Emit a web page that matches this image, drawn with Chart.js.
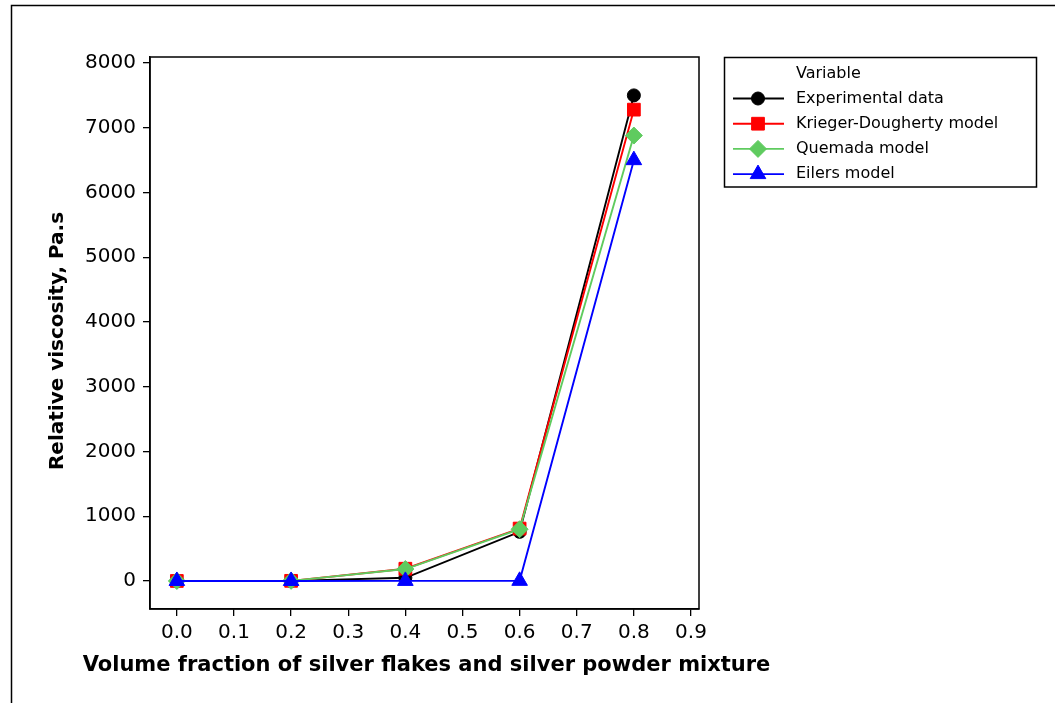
<!DOCTYPE html>
<html>
<head>
<meta charset="utf-8">
<title>Relative viscosity vs volume fraction</title>
<script src="https://cdn.jsdelivr.net/npm/chart.js@4.4.1/dist/chart.umd.min.js"></script>
<style>
  html, body { margin: 0; padding: 0; background: #fff; }
  #wrap { width: 1055px; height: 703px; position: relative; }
</style>
</head>
<body>
<div id="wrap"><canvas id="c" width="1055" height="703"></canvas></div>
<script>
// Volume fraction of filler (x) and relative viscosity for each series
const fractions        = [0.0, 0.2, 0.4, 0.6, 0.8];
const experimental     = [1, 2, 50, 760, 7500];
const kriegerDougherty = [1, 3, 190, 810, 7280];
const quemada          = [1, 3, 185, 800, 6880];
const eilers           = [1, 1, 2, 3, 6500];

const xTickValues = [0.0, 0.1, 0.2, 0.3, 0.4, 0.5, 0.6, 0.7, 0.8, 0.9];
const yTickValues = [0, 1000, 2000, 3000, 4000, 5000, 6000, 7000, 8000];

const seriesNames  = ['Experimental data', 'Krieger-Dougherty model', 'Quemada model', 'Eilers model'];
const seriesValues = [experimental, kriegerDougherty, quemada, eilers];
const seriesColors = ['#000000', '#ff0000', '#5fcb5f', '#0000ff'];
const seriesShapes = ['circle', 'rect', 'rectRot', 'triangle'];
const seriesRadius = [6.5, 9, 8.5, 9];

const xTitle = 'Volume fraction of silver flakes and silver powder mixture';
const yTitle = 'Relative viscosity, Pa.s';
const legendTitle = 'Variable';

const FONT = '"DejaVu Sans", "Liberation Sans", sans-serif';

const datasets = seriesNames.map((name, i) => ({
  label: name,
  data: fractions.map((f, k) => ({ x: f, y: seriesValues[i][k] })),
  borderColor: seriesColors[i],
  backgroundColor: seriesColors[i],
  pointBackgroundColor: seriesColors[i],
  pointBorderColor: seriesColors[i],
  pointBorderWidth: 1,
  pointStyle: seriesShapes[i],
  pointRadius: seriesRadius[i],
  pointHoverRadius: seriesRadius[i],
  borderWidth: 1.9,
  tension: 0,
  fill: false,
  // first series is drawn underneath, last on top
  order: seriesNames.length - i
}));

// White page, outer frame, plot box, axis titles and the boxed legend
const decorations = {
  id: 'decorations',
  beforeDraw(chart) {
    const ctx = chart.ctx;
    ctx.save();
    ctx.fillStyle = '#fff';
    ctx.fillRect(0, 0, chart.width, chart.height);
    ctx.restore();
  },
  afterDraw(chart) {
    const ctx = chart.ctx;
    const a = chart.chartArea;
    ctx.save();
    ctx.strokeStyle = '#000';
    ctx.lineWidth = 1.5;
    // outer frame
    ctx.strokeRect(11.5, 5.5, 1100, 800);
    // plot box
    ctx.strokeRect(a.left, a.top, a.right - a.left, a.bottom - a.top);

    // axis titles
    ctx.fillStyle = '#000';
    ctx.textAlign = 'center';
    ctx.textBaseline = 'alphabetic';
    ctx.font = 'bold 21px ' + FONT;
    ctx.fillText(xTitle, (a.left + a.right) / 2 + 2, 671);
    ctx.save();
    ctx.translate(63, 341);
    ctx.rotate(-Math.PI / 2);
    ctx.font = 'bold 20px ' + FONT;
    ctx.fillText(yTitle, 0, 0);
    ctx.restore();

    // legend
    ctx.strokeStyle = '#000';
    ctx.lineWidth = 1.5;
    ctx.strokeRect(724.5, 57.5, 312, 129.5);
    ctx.font = '16px ' + FONT;
    ctx.textBaseline = 'middle';
    ctx.textAlign = 'left';
    ctx.fillText(legendTitle, 796, 74);
    seriesNames.forEach((name, i) => {
      const y = 98.5 + i * 25.2;
      ctx.strokeStyle = seriesColors[i];
      ctx.lineWidth = 1.9;
      ctx.beginPath();
      ctx.moveTo(733, y);
      ctx.lineTo(784, y);
      ctx.stroke();
      ctx.fillStyle = seriesColors[i];
      ctx.lineWidth = 1;
      Chart.helpers.drawPoint(ctx, {
        pointStyle: seriesShapes[i], radius: seriesRadius[i], rotation: 0, borderWidth: 1
      }, 758, y);
      ctx.fillStyle = '#000';
      ctx.fillText(name, 796, y);
    });
    ctx.restore();
  }
};

new Chart(document.getElementById('c'), {
  type: 'line',
  data: { datasets },
  options: {
    responsive: false,
    animation: false,
    events: [],
    layout: { padding: { left: 0, top: 57, right: 356, bottom: 0 } },
    plugins: {
      legend: { display: false },
      tooltip: { enabled: false }
    },
    scales: {
      x: {
        type: 'linear',
        min: -0.047,
        max: 0.914,
        afterBuildTicks: s => { s.ticks = xTickValues.map(v => ({ value: v })); },
        afterFit: s => { s.height = 94; },
        grid: { drawOnChartArea: false, drawTicks: true, tickLength: 7, color: '#000', lineWidth: 1.3 },
        border: { display: true, color: '#000', width: 1.5 },
        ticks: {
          color: '#000',
          padding: 5,
          maxRotation: 0,
          autoSkip: false,
          font: { family: FONT, size: 20 },
          callback: v => Number(v).toFixed(1)
        },
        title: { display: false }
      },
      y: {
        type: 'linear',
        min: -432,
        max: 8093,
        afterBuildTicks: s => { s.ticks = yTickValues.map(v => ({ value: v })); },
        afterFit: s => { s.width = 150; },
        grid: { drawOnChartArea: false, drawTicks: true, tickLength: 7, color: '#000', lineWidth: 1.3 },
        border: { display: true, color: '#000', width: 1.5 },
        ticks: {
          color: '#000',
          padding: 7,
          autoSkip: false,
          font: { family: FONT, size: 20 },
          callback: v => String(v)
        },
        title: { display: false }
      }
    }
  },
  plugins: [decorations]
});
</script>
</body>
</html>
